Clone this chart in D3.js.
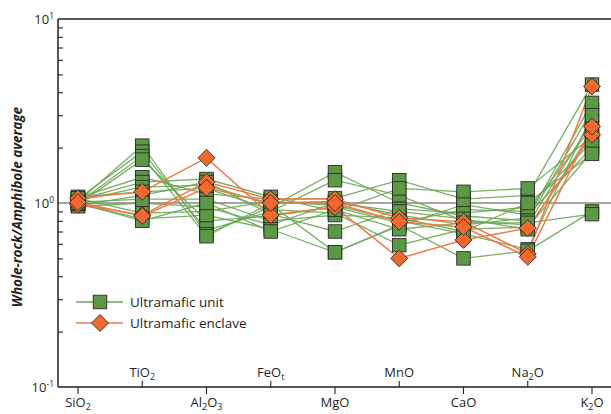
<!DOCTYPE html>
<html>
<head>
<meta charset="utf-8">
<script src="https://cdn.jsdelivr.net/npm/d3@7"></script>
<style>
  html, body { margin: 0; padding: 0; background: #fff; }
  svg { display: block; font-family: "Open Sans", "Noto Sans", sans-serif; }
</style>
</head>
<body>
<svg id="chart" width="611" height="414"></svg>
<script>
// Oxide categories (label parts: main text, subscript, trailing text)
const oxides = ["SiO2", "TiO2", "Al2O3", "FeOt", "MgO", "MnO", "CaO", "Na2O", "K2O"];
const oxideLabels = [
  [["SiO", ""], ["2", "sub"]],
  [["TiO", ""], ["2", "sub"]],
  [["Al", ""], ["2", "sub"], ["O", ""], ["3", "sub"]],
  [["FeO", ""], ["t", "sub"]],
  [["MgO", ""]],
  [["MnO", ""]],
  [["CaO", ""]],
  [["Na", ""], ["2", "sub"], ["O", ""]],
  [["K", ""], ["2", "sub"], ["O", ""]]
];

// Ultramafic unit samples, normalised to amphibole average
const unit01 = [1.02, 2.05, 0.68, 0.95, 1.47, 1.00, 0.85, 0.80, 3.20];
const unit02 = [1.05, 1.90, 0.71, 0.90, 1.33, 1.10, 0.80, 0.76, 2.80];
const unit03 = [1.00, 1.80, 0.66, 1.00, 1.02, 0.86, 0.76, 0.83, 3.50];
const unit04 = [0.98, 1.72, 0.80, 0.85, 0.95, 0.78, 0.92, 0.90, 2.60];
const unit05 = [1.07, 1.38, 1.12, 1.05, 1.06, 1.33, 1.05, 1.10, 4.40];
const unit06 = [1.04, 1.30, 1.35, 1.08, 0.90, 1.20, 1.15, 1.20, 2.30];
const unit07 = [1.03, 1.22, 1.25, 0.98, 0.54, 0.75, 0.98, 0.86, 2.00];
const unit08 = [1.08, 1.15, 1.20, 0.92, 0.88, 0.59, 0.72, 0.74, 1.90];
const unit09 = [0.97, 1.10, 1.30, 0.87, 0.70, 0.93, 0.88, 0.95, 2.15];
const unit10 = [1.01, 1.05, 1.05, 0.80, 0.86, 0.83, 0.70, 1.00, 1.85];
const unit11 = [0.96, 1.00, 0.95, 0.76, 1.00, 0.90, 0.82, 0.72, 2.45];
const unit12 = [1.06, 0.88, 0.90, 1.02, 0.97, 0.80, 0.68, 0.56, 3.00];
const unit13 = [0.99, 0.82, 0.86, 0.72, 0.54, 0.76, 0.50, 0.55, 0.90];
const unit14 = [1.00, 0.80, 1.00, 0.70, 0.92, 0.72, 0.78, 0.78, 0.87];

// Ultramafic enclave samples
const enclave1 = [1.06, 1.15, 1.76, 0.86, 0.95, 0.50, 0.63, 0.73, 2.35];
const enclave2 = [0.98, 0.86, 1.30, 1.05, 1.05, 0.83, 0.79, 0.53, 4.30];
const enclave3 = [1.01, 0.85, 1.21, 1.00, 1.00, 0.79, 0.74, 0.51, 2.60];

const unitSeries = [unit01, unit02, unit03, unit04, unit05, unit06, unit07,
                    unit08, unit09, unit10, unit11, unit12, unit13, unit14];
const enclaveSeries = [enclave1, enclave2, enclave3];

// Y axis decades and labels
const yDecades = [0.1, 1, 10];
const yDecadeExp = ["-1", "0", "1"];
const yTitle = "Whole-rock/Amphibole average";
const legendNames = ["Ultramafic unit", "Ultramafic enclave"];

const GREEN_FILL = "#5b9946", GREEN_LINE = "#6aa553";
const ORANGE_FILL = "#f0692f", ORANGE_LINE = "#f07a48";
const MARK_STROKE = "#2e2a26";

const svg = d3.select("#chart");
const W = 611;
const plotLeft = 58, plotTop = 19, plotBottom = 387;

const x = d3.scalePoint().domain(oxides).range([78, 592]);
const y = d3.scaleLog().domain([0.1, 10]).range([plotBottom, plotTop]);

// Frame: top line, reference line at 1
svg.append("line").attr("x1", plotLeft).attr("x2", W).attr("y1", y(10)).attr("y2", y(10))
  .attr("stroke", "#231f20").attr("stroke-width", 1.4);
svg.append("line").attr("x1", plotLeft).attr("x2", W).attr("y1", y(1)).attr("y2", y(1))
  .attr("stroke", "#4a4a4a").attr("stroke-width", 1.2);

// Y axis with log minor ticks pointing inward
const minorTicks = [];
[0.1, 1].forEach(d => { for (let k = 2; k <= 9; k++) minorTicks.push(d * k); });
const yAxis = d3.axisRight(y).tickValues(minorTicks).tickSize(5).tickFormat("");
const gy = svg.append("g").attr("transform", `translate(${plotLeft},0)`).call(yAxis);
gy.select(".domain").attr("stroke", "#231f20").attr("stroke-width", 1.5)
  .attr("d", `M0,${plotTop}V${plotBottom}`);
gy.selectAll(".tick line").attr("stroke", "#231f20").attr("stroke-width", 1.1);

yDecades.forEach((d, i) => {
  const t = svg.append("text").attr("x", plotLeft - 4).attr("y", y(d) + 5)
    .attr("text-anchor", "end").attr("font-size", 13).attr("fill", "#231f20");
  t.append("tspan").text("10");
  t.append("tspan").attr("dy", -5).attr("font-size", 8.5).text(yDecadeExp[i]);
});

// X axis: alternating ticks below / above the baseline
svg.append("line").attr("x1", plotLeft).attr("x2", W).attr("y1", plotBottom).attr("y2", plotBottom)
  .attr("stroke", "#231f20").attr("stroke-width", 1.5);
oxides.forEach((ox, i) => {
  const up = i % 2 === 1;
  const cx = x(ox);
  svg.append("line").attr("x1", cx).attr("x2", cx)
    .attr("y1", plotBottom).attr("y2", up ? plotBottom - 6 : plotBottom + 7)
    .attr("stroke", "#231f20").attr("stroke-width", 1.1);
  const t = svg.append("text").attr("x", cx).attr("y", up ? plotBottom - 10 : plotBottom + 20)
    .attr("text-anchor", "middle").attr("font-size", 13).attr("fill", "#231f20");
  let shifted = false;
  oxideLabels[i].forEach(([txt, kind]) => {
    const ts = t.append("tspan").text(txt);
    if (kind === "sub") { ts.attr("font-size", 9).attr("dy", 2.5); shifted = true; }
    else if (shifted) { ts.attr("dy", -2.5); shifted = false; }
  });
});

// Y title
svg.append("text")
  .attr("transform", `translate(22,${(plotTop + plotBottom) / 2 + 4}) rotate(-90)`)
  .attr("text-anchor", "middle").attr("font-size", 13.5)
  .attr("font-weight", "bold").attr("font-style", "italic").attr("fill", "#231f20")
  .text(yTitle);

// Series lines
const line = d3.line().x((d, i) => x(oxides[i])).y(d => y(d));
svg.append("g").selectAll("path").data(unitSeries).join("path")
  .attr("d", line).attr("fill", "none").attr("stroke", GREEN_LINE)
  .attr("stroke-width", 1.3).attr("stroke-opacity", 0.9);
svg.append("g").selectAll("path").data(enclaveSeries).join("path")
  .attr("d", line).attr("fill", "none").attr("stroke", ORANGE_LINE)
  .attr("stroke-width", 1.5);

// Markers
const sq = 13.5;
const unitPts = unitSeries.flatMap(s => s.map((v, i) => ({ ox: oxides[i], v })));
svg.append("g").selectAll("rect").data(unitPts).join("rect")
  .attr("x", d => x(d.ox) - sq / 2).attr("y", d => y(d.v) - sq / 2)
  .attr("width", sq).attr("height", sq)
  .attr("fill", GREEN_FILL).attr("stroke", MARK_STROKE).attr("stroke-width", 0.9);

const dm = 8.5;
const diamond = `M0,${-dm}L${dm},0L0,${dm}L${-dm},0Z`;
const enclavePts = enclaveSeries.flatMap(s => s.map((v, i) => ({ ox: oxides[i], v })));
svg.append("g").selectAll("path").data(enclavePts).join("path")
  .attr("transform", d => `translate(${x(d.ox)},${y(d.v)})`)
  .attr("d", diamond).attr("fill", ORANGE_FILL)
  .attr("stroke", MARK_STROKE).attr("stroke-width", 0.9);

// Legend
const legend = svg.append("g");
const legendRows = [
  { name: legendNames[0], color: GREEN_LINE, fill: GREEN_FILL, shape: "square", yy: 302 },
  { name: legendNames[1], color: ORANGE_LINE, fill: ORANGE_FILL, shape: "diamond", yy: 323 }
];
legendRows.forEach(r => {
  legend.append("line").attr("x1", 76).attr("x2", 123).attr("y1", r.yy).attr("y2", r.yy)
    .attr("stroke", r.color).attr("stroke-width", 1.5);
  if (r.shape === "square") {
    legend.append("rect").attr("x", 100 - sq / 2).attr("y", r.yy - sq / 2)
      .attr("width", sq).attr("height", sq).attr("fill", r.fill)
      .attr("stroke", MARK_STROKE).attr("stroke-width", 0.9);
  } else {
    legend.append("path").attr("transform", `translate(100,${r.yy})`).attr("d", diamond)
      .attr("fill", r.fill).attr("stroke", MARK_STROKE).attr("stroke-width", 0.9);
  }
  legend.append("text").attr("x", 130).attr("y", r.yy + 5).attr("font-size", 13.5)
    .attr("fill", "#231f20").text(r.name);
});
</script>
</body>
</html>
